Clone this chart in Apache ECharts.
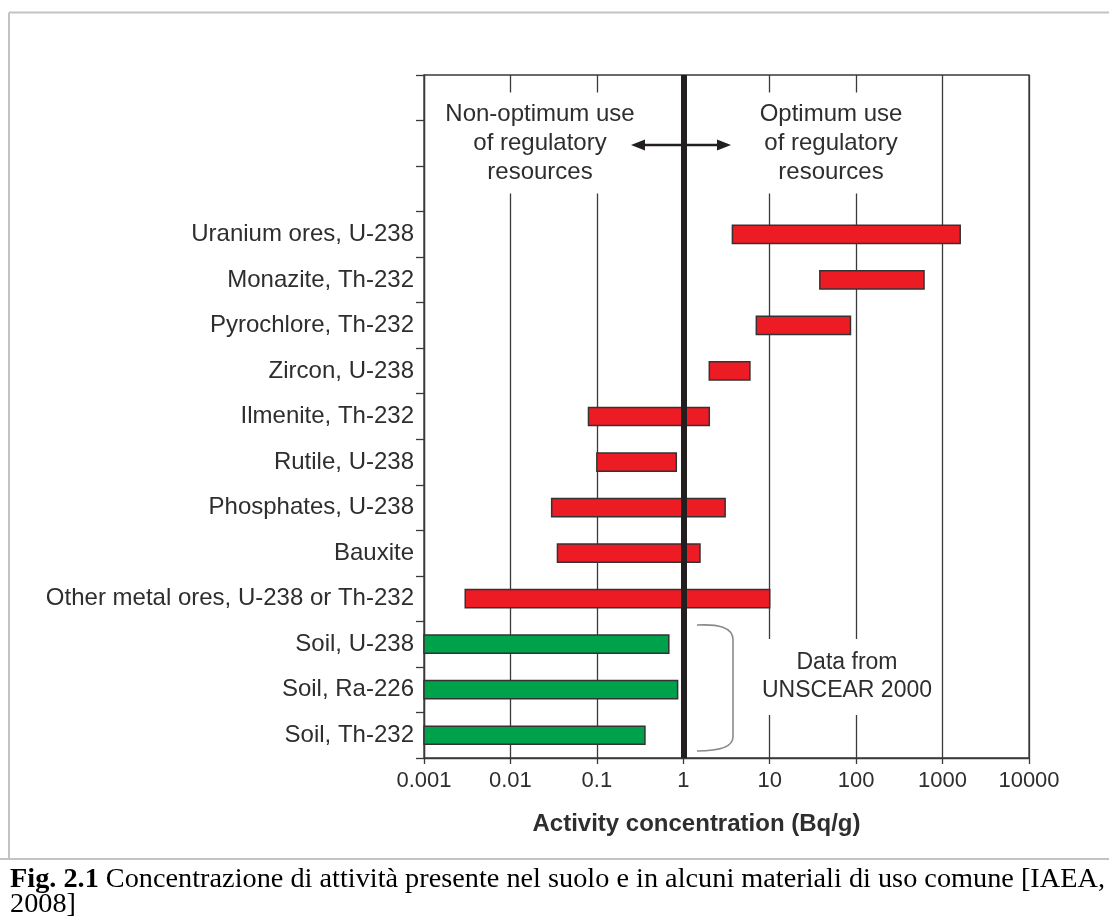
<!DOCTYPE html>
<html>
<head>
<meta charset="utf-8">
<title>Activity concentration</title>
<script src="https://cdn.jsdelivr.net/npm/echarts@6/dist/echarts.min.js"></script>
<style>
  html, body { margin: 0; padding: 0; background: #fff; }
  #chart { width: 1109px; height: 916px; }
</style>
</head>
<body>
<div id="chart"></div>
<script>
// Materials, top to bottom
const materials = [
  'Uranium ores, U-238',
  'Monazite, Th-232',
  'Pyrochlore, Th-232',
  'Zircon, U-238',
  'Ilmenite, Th-232',
  'Rutile, U-238',
  'Phosphates, U-238',
  'Bauxite',
  'Other metal ores, U-238 or Th-232',
  'Soil, U-238',
  'Soil, Ra-226',
  'Soil, Th-232'
];
// Range of activity concentration (Bq/g)
const rangeLow  = [3.7, 38, 7, 2, 0.08, 0.1, 0.03, 0.035, 0.003, 0.001, 0.001, 0.001];
const rangeHigh = [1600, 610, 86, 5.9, 2, 0.83, 3.05, 1.56, 10, 0.68, 0.86, 0.36];
// Source group of each row
const groups = ['ore', 'ore', 'ore', 'ore', 'ore', 'ore', 'ore', 'ore', 'ore', 'soil', 'soil', 'soil'];
// Empty rows kept above the bars for the explanatory text
const headerRows = ['', '', ''];
const tickLabels = ['0.001', '0.01', '0.1', '1', '10', '100', '1000', '10000'];
const threshold = 1;

const categories = headerRows.concat(materials);
const groupColor = { ore: '#ed1c24', soil: '#00a14b' };
const rows = materials.map((m, i) => [m, rangeLow[i], rangeHigh[i], groups[i]]);

const caption1Bold = 'Fig. 2.1';
const caption1Rest = ' Concentrazione di attività presente nel suolo e in alcuni materiali di uso comune [IAEA,';
const caption2 = '2008]';

// Caption is set in a tall serif face and squeezed to the page width
const capFont = '"Liberation Serif", "Times New Roman", serif';
const capSize = 28;
const ctx = document.createElement('canvas').getContext('2d');
ctx.font = 'bold ' + capSize + 'px ' + capFont;
let capW = ctx.measureText(caption1Bold).width;
ctx.font = capSize + 'px ' + capFont;
capW += ctx.measureText(caption1Rest).width;
const capScale = 1095 / capW;

const sans = '"Liberation Sans", Arial, Helvetica, sans-serif';
const ink = '#2e2e2e';
const bracketStyle = { stroke: '#8a8a8a', lineWidth: 1.6, fill: null };

const chart = echarts.init(document.getElementById('chart'), null, { renderer: 'canvas' });

const option = {
  backgroundColor: '#ffffff',
  animation: false,
  grid: {
    left: 424, top: 75, right: 80, bottom: 158,
    show: true, borderColor: '#3a3a3a', borderWidth: 1.3, backgroundColor: 'transparent'
  },
  xAxis: {
    type: 'log',
    logBase: 10,
    min: 0.001,
    max: 10000,
    name: 'Activity concentration (Bq/g)',
    nameLocation: 'middle',
    nameGap: 54,
    nameTextStyle: {
      fontFamily: sans, fontSize: 24, fontWeight: 'bold', color: ink,
      padding: [0, 60, 0, 0]
    },
    axisLine: { show: true, lineStyle: { color: '#3a3a3a', width: 1.3 } },
    axisTick: { show: true, inside: false, length: 6, lineStyle: { color: '#3a3a3a', width: 1.3 } },
    minorTick: { show: false },
    splitLine: { show: true, lineStyle: { color: '#3a3a3a', width: 1.3 } },
    axisLabel: {
      fontFamily: sans, fontSize: 22, color: ink, margin: 12,
      formatter: function (v) {
        const k = Math.round(Math.log10(v)) + 3;
        return tickLabels[k] !== undefined ? tickLabels[k] : '';
      }
    }
  },
  yAxis: {
    type: 'category',
    data: categories,
    inverse: true,
    boundaryGap: true,
    axisLine: { show: true, lineStyle: { color: '#3a3a3a', width: 1.3 } },
    axisTick: { show: true, inside: false, length: 8, alignWithLabel: false, lineStyle: { color: '#3a3a3a', width: 1.3 } },
    splitLine: { show: false },
    axisLabel: { fontFamily: sans, fontSize: 24, color: ink, margin: 10, interval: 0 }
  },
  series: [{
    type: 'custom',
    data: rows,
    encode: { x: [1, 2], y: 0 },
    renderItem: function (params, api) {
      const cat = api.value(0);
      const a = api.coord([api.value(1), cat]);
      const b = api.coord([api.value(2), cat]);
      const h = api.size([0, 1])[1] * 0.4;
      const grp = rows[params.dataIndex][3];
      return {
        type: 'rect',
        shape: { x: a[0], y: a[1] - h / 2, width: b[0] - a[0], height: h },
        style: { fill: groupColor[grp], stroke: '#333333', lineWidth: 1.5 }
      };
    },
    markLine: {
      silent: true,
      symbol: 'none',
      label: { show: false },
      lineStyle: { color: '#231f20', width: 6, type: 'solid' },
      data: [{ xAxis: threshold }]
    },
    z: 3
  }],
  graphic: [
    // light frame around the figure and the caption rule
    { type: 'line', z: 1, shape: { x1: 9, y1: 12.5, x2: 1109, y2: 12.5 }, style: { stroke: '#c3c3c3', lineWidth: 2 } },
    { type: 'line', z: 1, shape: { x1: 9, y1: 12.5, x2: 9, y2: 859 }, style: { stroke: '#c3c3c3', lineWidth: 2 } },
    { type: 'line', z: 1, shape: { x1: 0, y1: 859, x2: 1109, y2: 859 }, style: { stroke: '#c3c3c3', lineWidth: 2 } },

    // explanatory text blocks (white box interrupts the grid lines)
    {
      type: 'text', z: 100, x: 540, y: 143,
      style: {
        text: 'Non-optimum use\nof regulatory\nresources',
        font: '24px ' + sans, fill: ink, align: 'center', verticalAlign: 'middle',
        lineHeight: 29, backgroundColor: '#ffffff', padding: [6, 8, 8, 8]
      }
    },
    {
      type: 'text', z: 100, x: 831, y: 143,
      style: {
        text: 'Optimum use\nof regulatory\nresources',
        font: '24px ' + sans, fill: ink, align: 'center', verticalAlign: 'middle',
        lineHeight: 29, backgroundColor: '#ffffff', padding: [6, 8, 8, 8]
      }
    },
    {
      type: 'text', z: 100, x: 847, y: 677,
      style: {
        text: 'Data from\nUNSCEAR 2000',
        font: '23px ' + sans, fill: ink, align: 'center', verticalAlign: 'middle',
        lineHeight: 28, backgroundColor: '#ffffff', padding: [10, 4, 10, 4]
      }
    },

    // double arrow across the threshold
    { type: 'line', z: 101, shape: { x1: 640, y1: 145, x2: 722, y2: 145 }, style: { stroke: '#231f20', lineWidth: 2.5 } },
    { type: 'polygon', z: 101, shape: { points: [[631, 145], [645, 139.5], [645, 150.5]] }, style: { fill: '#231f20' } },
    { type: 'polygon', z: 101, shape: { points: [[731, 145], [717, 139.5], [717, 150.5]] }, style: { fill: '#231f20' } },

    // bracket grouping the soil rows
    { type: 'bezierCurve', z: 101, shape: { x1: 697, y1: 625, cpx1: 718, cpy1: 624, cpx2: 733, cpy2: 627, x2: 733, y2: 640 }, style: bracketStyle },
    { type: 'line', z: 101, shape: { x1: 733, y1: 640, x2: 733, y2: 737 }, style: bracketStyle },
    { type: 'bezierCurve', z: 101, shape: { x1: 733, y1: 737, cpx1: 733, cpy1: 748, cpx2: 718, cpy2: 751, x2: 697, y2: 751 }, style: bracketStyle },

    // caption
    {
      type: 'text', z: 100, x: 10, y: 894, scaleX: capScale, scaleY: 1,
      style: {
        text: '{b|' + caption1Bold + '}' + caption1Rest,
        font: capSize + 'px ' + capFont, fill: '#000', verticalAlign: 'bottom', align: 'left',
        rich: { b: { fontWeight: 'bold', fontSize: capSize, fontFamily: capFont, fill: '#000' } }
      }
    },
    {
      type: 'text', z: 100, x: 10, y: 919, scaleX: capScale, scaleY: 1,
      style: {
        text: caption2, font: capSize + 'px ' + capFont, fill: '#000', verticalAlign: 'bottom', align: 'left'
      }
    }
  ]
};

chart.setOption(option);
</script>
</body>
</html>
